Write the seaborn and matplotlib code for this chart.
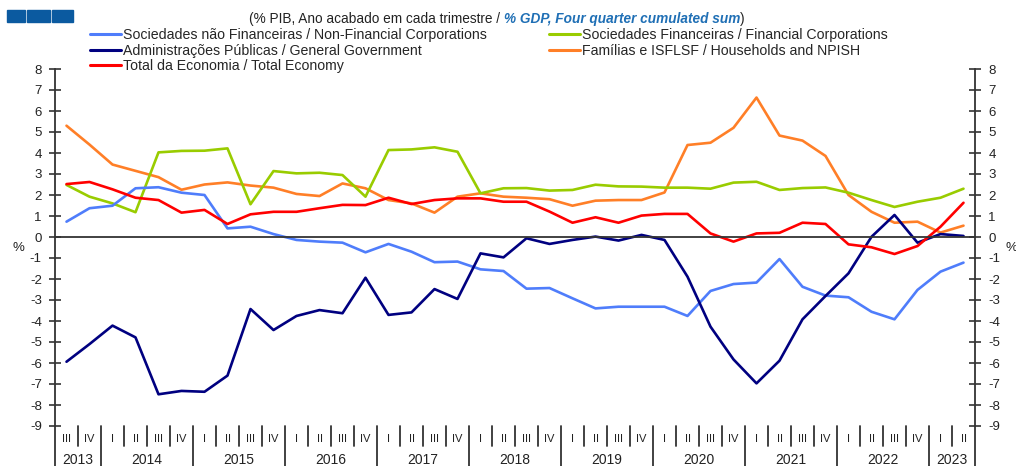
import numpy as np
import pandas as pd
import seaborn as sns
import matplotlib.pyplot as plt
import matplotlib.transforms as mtransforms
from matplotlib.lines import Line2D
from matplotlib.patches import Rectangle

# Quarters 2013 III .. 2023 II
quarters = ['III', 'IV'] + ['I', 'II', 'III', 'IV'] * 9 + ['I', 'II']
years = ['2013'] + [str(y) for y in range(2014, 2023)] + ['2023']
year_len = [2] + [4] * 9 + [2]

non_fin = [0.73, 1.37, 1.49, 2.32, 2.37, 2.11, 2.0, 0.41, 0.49, 0.14,
           -0.14, -0.22, -0.27, -0.73, -0.33, -0.70, -1.2, -1.17, -1.54, -1.62,
           -2.46, -2.43, -2.92, -3.4, -3.32, -3.32, -3.32, -3.76, -2.57, -2.24,
           -2.17, -1.05, -2.37, -2.79, -2.87, -3.56, -3.92, -2.52, -1.65, -1.22]
fin = [2.48, 1.92, 1.6, 1.18, 4.03, 4.1, 4.11, 4.22, 1.56, 3.14,
       3.03, 3.06, 2.95, 1.92, 4.14, 4.17, 4.27, 4.06, 2.08, 2.32,
       2.33, 2.21, 2.24, 2.49, 2.41, 2.4, 2.35, 2.35, 2.3, 2.59,
       2.63, 2.24, 2.33, 2.36, 2.11, 1.76, 1.43, 1.68, 1.87, 2.3]
gov = [-5.94, -5.1, -4.22, -4.78, -7.49, -7.33, -7.37, -6.6, -3.43, -4.43,
       -3.76, -3.48, -3.63, -1.94, -3.71, -3.59, -2.48, -2.95, -0.78, -0.97,
       -0.06, -0.33, -0.14, 0.02, -0.17, 0.1, -0.14, -1.89, -4.27, -5.83,
       -6.97, -5.89, -3.92, -2.81, -1.73, 0.01, 1.05, -0.27, 0.14, 0.05]
households = [5.3, 4.4, 3.45, 3.15, 2.85, 2.25, 2.5, 2.6, 2.45, 2.35,
              2.05, 1.95, 2.55, 2.32, 1.76, 1.6, 1.16, 1.92, 2.08, 1.92,
              1.87, 1.8, 1.49, 1.73, 1.76, 1.76, 2.12, 4.38, 4.49, 5.2,
              6.64, 4.83, 4.59, 3.86, 2.0, 1.2, 0.68, 0.73, 0.21, 0.54]
total = [2.52, 2.62, 2.27, 1.87, 1.76, 1.16, 1.29, 0.62, 1.08, 1.2,
         1.2, 1.37, 1.53, 1.52, 1.87, 1.57, 1.76, 1.84, 1.84, 1.68,
         1.68, 1.21, 0.68, 0.94, 0.68, 1.02, 1.1, 1.1, 0.17, -0.22,
         0.17, 0.2, 0.68, 0.62, -0.35, -0.49, -0.81, -0.43, 0.49, 1.63]

names = {
    'nfc': 'Sociedades não Financeiras / Non-Financial Corporations',
    'gg': 'Administrações Públicas / General Government',
    'tot': 'Total da Economia / Total Economy',
    'fc': 'Sociedades Financeiras / Financial Corporations',
    'hh': 'Famílias e ISFLSF / Households and NPISH',
}
colors = {'nfc': '#4F7DFB', 'gg': '#000080', 'tot': '#FF0000',
          'fc': '#99CC00', 'hh': '#FF7F27'}
values = {'nfc': non_fin, 'gg': gov, 'tot': total, 'fc': fin, 'hh': households}

t = np.arange(len(quarters))
df = pd.concat([pd.DataFrame({'t': t, 'value': v, 'series': k}) for k, v in values.items()])

sns.set_style('white')
plt.rcParams['font.family'] = ['Liberation Sans', 'DejaVu Sans']
plt.rcParams['axes.unicode_minus'] = False

W, H = 1016, 466
fig = plt.figure(figsize=(W / 100, H / 100), dpi=100)
ax = fig.add_axes([55 / W, 1 - 426 / H, 920 / W, 357 / H])

draw_order = ['hh', 'fc', 'nfc', 'gg', 'tot']
sns.lineplot(data=df, x='t', y='value', hue='series', hue_order=draw_order,
             palette=colors, linewidth=1.9, legend=False, ax=ax)

ax.set_xlim(-0.5, len(quarters) - 0.5)
ax.set_ylim(-9, 8)
ax.set_yticks(range(-9, 9))
ax.set_xlabel('')
ax.set_ylabel('')

# zero line with quarter ticks
ax.spines['bottom'].set_position(('data', 0))
ax.spines['top'].set_visible(False)
for s in ['left', 'right', 'bottom']:
    ax.spines[s].set_color('#333333')
    ax.spines[s].set_linewidth(1.3)
ax.set_xticks(np.arange(-0.5, len(quarters)))
ax.tick_params(axis='x', direction='out', length=4, width=1.2, color='#333333',
               labelbottom=False)
ax.tick_params(axis='y', direction='inout', length=9, width=1.2, color='#333333',
               left=True, right=True, labelleft=True, labelright=True,
               labelsize=9.5, pad=5, labelcolor='#222222')

# category labels below the plot
trans = mtransforms.blended_transform_factory(ax.transData, ax.transAxes)
px = 1 / 357
for i, q in enumerate(quarters):
    ax.text(i, -13 * px, q, transform=trans, ha='center', va='center',
            fontsize=8, color='#222222')
starts = np.concatenate([[0], np.cumsum(year_len)])
for y, s, n in zip(years, starts[:-1], year_len):
    ax.text(s + (n - 1) / 2, -34 * px, y, transform=trans, ha='center',
            va='center', fontsize=10, color='#222222')
year_bounds = set(starts - 0.5)
for b in np.arange(-0.5, len(quarters)):
    bottom = -40 * px if b in year_bounds else -20 * px
    ax.add_line(Line2D([b, b], [0, bottom], transform=trans, color='#333333',
                       lw=1.3, clip_on=False))

fig.text(18 / W, 1 - 248 / H, '%', fontsize=9.5, ha='center', va='center', color='#222222')
fig.text(1011 / W, 1 - 248 / H, '%', fontsize=9.5, ha='center', va='center', color='#222222')

# legends
def handles(keys):
    return [Line2D([], [], color=colors[k], lw=2.2) for k in keys]

leg_kw = dict(loc='upper left', frameon=False, fontsize=10.2, handlelength=2.2,
              handletextpad=0.1, labelspacing=0.12, borderpad=0, borderaxespad=0)
left_keys = ['nfc', 'gg', 'tot']
right_keys = ['fc', 'hh']
l1 = fig.legend(handles(left_keys), [names[k] for k in left_keys],
                bbox_to_anchor=(90 / W, 1 - 28 / H), **leg_kw)
l2 = fig.legend(handles(right_keys), [names[k] for k in right_keys],
                bbox_to_anchor=(549 / W, 1 - 28 / H), **leg_kw)

# title in two colours
fs_title = 9.8
t1 = fig.text(249 / W, 1 - 23 / H, '(% PIB, Ano acabado em cada trimestre / ',
              fontsize=fs_title, color='#222222', va='baseline')
fig.canvas.draw()
bb = t1.get_window_extent()
base_y = t1.get_transform().transform(t1.get_position())[1]
t2 = fig.text(bb.x1, base_y, '% GDP, Four quarter cumulated sum', fontsize=fs_title,
              color='#1F6FB5', style='italic', weight='bold', va='baseline',
              transform=mtransforms.IdentityTransform())
fig.canvas.draw()
bb2 = t2.get_window_extent()
fig.text(bb2.x1, base_y, ')', fontsize=fs_title, color='#222222', va='baseline',
         transform=mtransforms.IdentityTransform())

# logo squares
for x0, x1 in [(7, 25), (27, 50), (52, 73)]:
    fig.add_artist(Rectangle((x0 / W, 1 - 22 / H), (x1 - x0) / W, 12 / H,
                             transform=fig.transFigure, color='#0B5AA0'))

fig.savefig('out.png', dpi=100)
